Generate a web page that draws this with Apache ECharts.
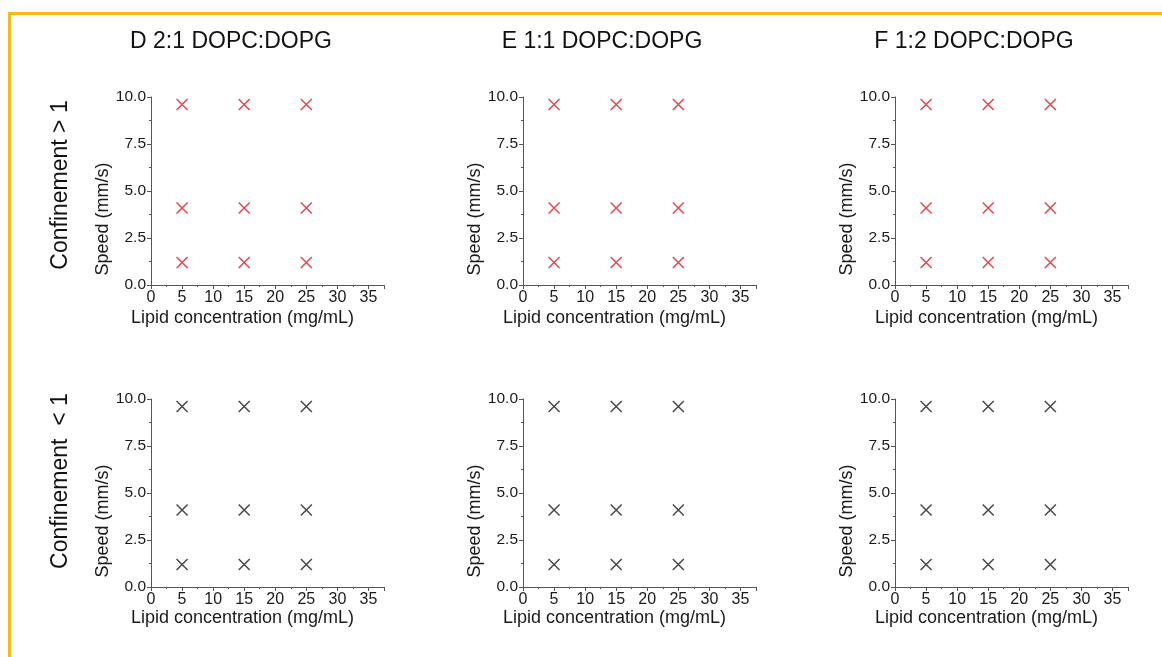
<!DOCTYPE html>
<html>
<head>
<meta charset="utf-8">
<script src="https://cdn.jsdelivr.net/npm/echarts@6/dist/echarts.min.js"></script>
<style>
html,body{margin:0;padding:0;background:#fff;}
#frame{position:absolute;left:8px;top:12px;width:1200px;height:700px;border-top:3px solid #FBB814;border-left:3px solid #FBB814;}
#chart{position:absolute;left:0;top:0;width:1162px;height:657px;}
</style>
</head>
<body>
<div id="frame"></div>
<div id="chart"></div>
<script>
// ---- data ----
const panelTitles = ['D 2:1 DOPC:DOPG', 'E 1:1 DOPC:DOPG', 'F 1:2 DOPC:DOPG'];
const rowLabels = ['Confinement > 1', 'Confinement  < 1'];
const lipidConc = [5, 5, 5, 15, 15, 15, 25, 25, 25];          // mg/mL
const speedConfAbove1 = [9.6, 4.1, 1.2, 9.6, 4.1, 1.2, 9.6, 4.1, 1.2]; // mm/s
const speedConfBelow1 = [9.6, 4.1, 1.2, 9.6, 4.1, 1.2, 9.6, 4.1, 1.2]; // mm/s
const xTicks = [0, 5, 10, 15, 20, 25, 30, 35];
const yTicks = [0, 2.5, 5, 7.5, 10];
const rowColors = ['#E8141C', '#1A1A1A'];

// ---- layout ----
const colLefts = [151, 523, 895];
const rowTops = [97, 399];
const gw = 233, gh = 188;
const FONT = '"Liberation Sans", Arial, sans-serif';

const grids = [], xAxes = [], yAxes = [], series = [], graphics = [];
let gi = 0;
for (let r = 0; r < 2; r++) {
  const ys = r === 0 ? speedConfAbove1 : speedConfBelow1;
  for (let c = 0; c < 3; c++) {
    grids.push({left: colLefts[c], top: rowTops[r], width: gw, height: gh, containLabel: false});
    xAxes.push({
      gridIndex: gi, type: 'value', min: 0, max: 37.5, interval: 5,
      name: 'Lipid concentration (mg/mL)', nameLocation: 'middle', nameGap: r === 0 ? 24 : 17,
      nameTextStyle: {fontFamily: FONT, fontSize: 18, color: '#1a1a1a', padding: [0, 50, 0, 0]},
      axisLine: {show: true, lineStyle: {color: '#555', width: 1}},
      axisTick: {show: true, inside: false, length: 4, lineStyle: {color: '#555'}},
      minorTick: {show: true, splitNumber: 2, length: 2, lineStyle: {color: '#555'}},
      splitLine: {show: false}, minorSplitLine: {show: false},
      axisLabel: {fontFamily: FONT, fontSize: 16, color: '#1a1a1a', margin: 5, showMaxLabel: false,
        formatter: v => xTicks.indexOf(v) >= 0 ? String(v) : ''}
    });
    yAxes.push({
      gridIndex: gi, type: 'value', min: 0, max: 10, interval: 2.5,
      name: 'Speed (mm/s)', nameLocation: 'middle', nameGap: 32, nameRotate: 90,
      nameTextStyle: {fontFamily: FONT, fontSize: 18, color: '#1a1a1a', padding: [0, 56, 0, 0]},
      axisLine: {show: true, lineStyle: {color: '#555', width: 1}},
      axisTick: {show: true, inside: false, length: 4, lineStyle: {color: '#555'}},
      minorTick: {show: true, splitNumber: 2, length: 2, lineStyle: {color: '#555'}},
      splitLine: {show: false}, minorSplitLine: {show: false},
      axisLabel: {fontFamily: FONT, fontSize: 15.5, color: '#1a1a1a', margin: 5,
        formatter: v => yTicks.indexOf(v) >= 0 ? v.toFixed(1) : ''}
    });
    series.push({
      type: 'scatter', xAxisIndex: gi, yAxisIndex: gi,
      data: lipidConc.map((x, i) => [x, ys[i]]),
      symbol: 'path://M0,0L10,10M10,0L0,10', symbolSize: 11,
      itemStyle: {color: 'none', borderColor: rowColors[r], borderWidth: 1.5},
      emphasis: {disabled: true}, silent: true
    });
    gi++;
  }
}
const titleX = [231, 602, 974];
for (let c = 0; c < 3; c++) {
  graphics.push({type: 'text', x: titleX[c], y: 42, style: {
    text: panelTitles[c], font: '23px ' + FONT, fill: '#111',
    textAlign: 'center', textVerticalAlign: 'middle', align: 'center', verticalAlign: 'middle'}});
}
const rowLabelY = [185, 481];
for (let r = 0; r < 2; r++) {
  graphics.push({type: 'text', x: 61, y: rowLabelY[r], rotation: Math.PI / 2, style: {
    text: rowLabels[r], font: '23px ' + FONT, fill: '#111',
    textAlign: 'center', textVerticalAlign: 'middle', align: 'center', verticalAlign: 'middle'}});
}

const chart = echarts.init(document.getElementById('chart'), null, {renderer: 'canvas'});
chart.setOption({
  backgroundColor: 'transparent',
  animation: false,
  grid: grids, xAxis: xAxes, yAxis: yAxes, series: series,
  graphic: graphics
});
</script>
</body>
</html>
